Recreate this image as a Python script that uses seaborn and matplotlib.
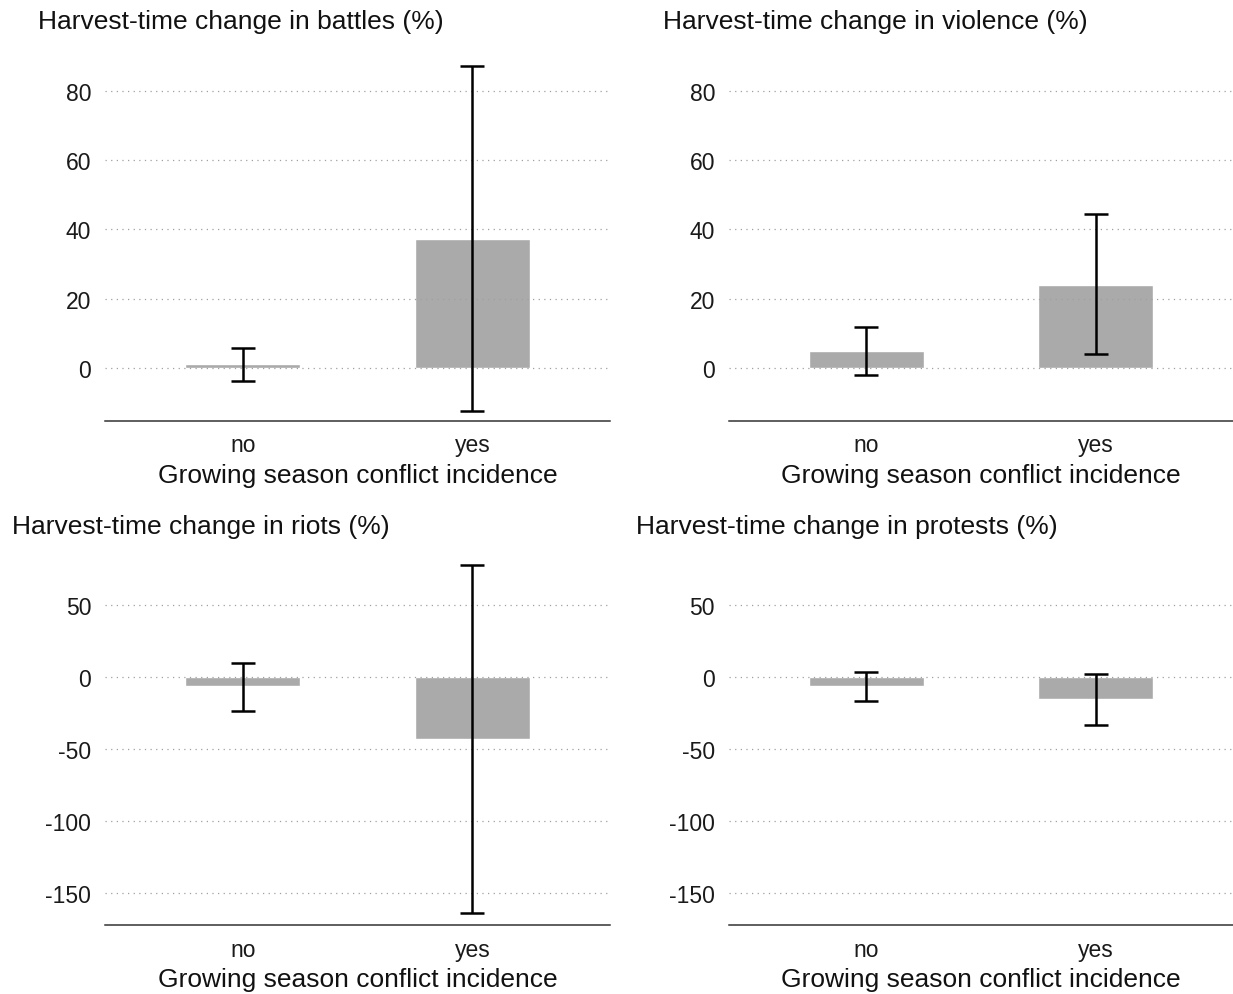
import matplotlib
matplotlib.use("Agg")
import matplotlib.pyplot as plt
import seaborn as sns
import pandas as pd
import numpy as np

# values (percent change at harvest time)
incidence = ["no", "yes"]

battles_est = [1.0, 37.3]
battles_lo = [-3.8, -12.4]
battles_hi = [5.8, 87.2]

violence_est = [4.9, 24.0]
violence_lo = [-2.0, 4.0]
violence_hi = [11.8, 44.5]

riots_est = [-6.3, -43.1]
riots_lo = [-23.6, -163.9]
riots_hi = [9.7, 77.8]

protests_est = [-6.3, -15.3]
protests_lo = [-16.7, -33.3]
protests_hi = [3.5, 2.1]

titles = ["Harvest-time change in battles (%)",
          "Harvest-time change in violence (%)",
          "Harvest-time change in riots (%)",
          "Harvest-time change in protests (%)"]
top_ticks = [0, 20, 40, 60, 80]
bottom_ticks = [-150, -100, -50, 0, 50]
xlabel = "Growing season conflict incidence"

sns.set_theme(style="white")
plt.rcParams['font.family'] = ['Liberation Sans', 'DejaVu Sans']
plt.rcParams['axes.unicode_minus'] = False

fig = plt.figure(figsize=(12.33, 9.95), dpi=100)

panels = [
    (battles_est, battles_lo, battles_hi, top_ticks, (-15.3, 90)),
    (violence_est, violence_lo, violence_hi, top_ticks, (-15.3, 90)),
    (riots_est, riots_lo, riots_hi, bottom_ticks, (-172.2, 85)),
    (protests_est, protests_lo, protests_hi, bottom_ticks, (-172.2, 85)),
]
rects = [[0.0852, 0.5759, 0.4096, 0.3668],
         [0.5912, 0.5759, 0.4088, 0.3668],
         [0.0852, 0.0693, 0.4096, 0.3723],
         [0.5912, 0.0693, 0.4088, 0.3723]]
title_pos = [(38, 22), (663, 22), (12, 527), (636, 527)]

for i, (est, lo, hi, ticks, ylim) in enumerate(panels):
    ax = fig.add_axes(rects[i])
    df = pd.DataFrame({"incidence": incidence, "est": est, "lo": lo, "hi": hi})
    sns.barplot(data=df, x="incidence", y="est", color="#aaaaaa", saturation=1,
                width=0.5, errorbar=None, ax=ax)
    pos = np.arange(len(incidence))
    yerr = [df["est"] - df["lo"], df["hi"] - df["est"]]
    ax.errorbar(pos, df["est"], yerr=yerr, fmt="none", ecolor="black",
                elinewidth=1.8, capsize=8.3, capthick=1.8, zorder=4)
    ax.set_xlim(-0.6, 1.6)
    ax.set_ylim(*ylim)
    ax.set_yticks(ticks)
    ax.yaxis.grid(True, linestyle=(0, (1, 3.5)), color="#a0a0a0", linewidth=0.9)
    ax.xaxis.grid(False)
    ax.set_axisbelow(False)
    for s in ["left", "right", "top"]:
        ax.spines[s].set_visible(False)
    ax.spines["bottom"].set_color("#333333")
    ax.spines["bottom"].set_linewidth(1.1)
    ax.tick_params(axis="both", length=0, labelsize=16.5, colors="#1a1a1a")
    ax.tick_params(axis="y", pad=10)
    ax.tick_params(axis="x", pad=9)
    ax.set_ylabel("")
    ax.set_xlabel(xlabel, fontsize=19, color="#111111", labelpad=4.5)
    tx, ty = title_pos[i]
    fig.text(tx / 1233, 1 - ty / 995, titles[i], fontsize=19, color="#111111",
             ha="left", va="center")

fig.savefig("out.png", dpi=100)
